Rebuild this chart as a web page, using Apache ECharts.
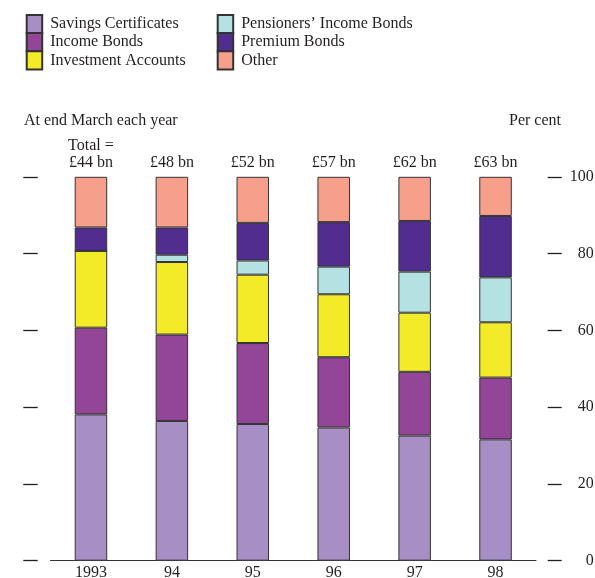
<!DOCTYPE html>
<html>
<head>
<meta charset="utf-8">
<script src="https://cdn.jsdelivr.net/npm/echarts@6/dist/echarts.min.js"></script>
<style>html,body{margin:0;padding:0;background:#fff}#c{width:595px;height:578px}</style>
</head>
<body>
<div id="c"></div>
<script>
const years = ['1993', '94', '95', '96', '97', '98'];
const totals = ['£44 bn', '£48 bn', '£52 bn', '£57 bn', '£62 bn', '£63 bn'];
const savingsCertificates = [38.1, 36.4, 35.6, 34.7, 32.6, 31.6];
const incomeBonds = [22.6, 22.5, 21.1, 18.3, 16.6, 16.1];
const investmentAccounts = [20.0, 18.9, 17.8, 16.4, 15.4, 14.4];
const pensionersIncomeBonds = [0, 1.9, 3.7, 7.2, 10.7, 11.7];
const premiumBonds = [6.1, 7.1, 9.8, 11.6, 13.2, 16.0];
const other = [13.2, 13.2, 12.0, 11.8, 11.5, 10.2];
const yTicks = [0, 20, 40, 60, 80, 100];

const FONT = 'Liberation Serif';
const FS = 16;
const TXT = '#231f20';
const EDGE = '#333333';

const seriesDefs = [
  { name: 'Savings Certificates', data: savingsCertificates, color: '#a78fc5' },
  { name: 'Income Bonds', data: incomeBonds, color: '#934597' },
  { name: 'Investment Accounts', data: investmentAccounts, color: '#f3eb28' },
  { name: 'Pensioners\u2019 Income Bonds', data: pensionersIncomeBonds, color: '#b4e1e1' },
  { name: 'Premium Bonds', data: premiumBonds, color: '#512d90' },
  { name: 'Other', data: other, color: '#f6a08c' }
];

const series = seriesDefs.map((s, idx) => {
  const o = {
    name: s.name,
    type: 'bar',
    stack: 'total',
    barWidth: 32.5,
    data: s.data,
    itemStyle: { color: s.color, borderColor: EDGE, borderWidth: 1 },
    emphasis: { disabled: true },
    animation: false
  };
  if (idx === seriesDefs.length - 1) {
    o.label = {
      show: true,
      position: 'top',
      distance: 6,
      fontFamily: FONT,
      fontSize: FS,
      color: TXT,
      lineHeight: 17,
      formatter: p => (p.dataIndex === 0 ? 'Total =\n' : '') + totals[p.dataIndex]
    };
  }
  return o;
});

const legendCommon = {
  orient: 'vertical',
  padding: 0,
  itemWidth: 15.5,
  itemHeight: 18.3,
  itemGap: -2.2,
  icon: 'rect',
  selectedMode: false,
  textStyle: { fontFamily: FONT, fontSize: FS, color: TXT, lineHeight: 17.5, padding: [0, 0, 0, 3] }
};

const chart = echarts.init(document.getElementById('c'), null, { renderer: 'canvas' });
chart.setOption({
  animation: false,
  backgroundColor: '#ffffff',
  textStyle: { fontFamily: FONT },
  title: [
    { text: 'At end March each year', left: 24, top: 113, padding: 0, textStyle: { fontFamily: FONT, fontSize: FS, fontWeight: 'normal', color: TXT } },
    { text: 'Per cent', right: 34, top: 113, padding: 0, textStyle: { fontFamily: FONT, fontSize: FS, fontWeight: 'normal', color: TXT } }
  ],
  legend: [
    Object.assign({ left: 25.7, top: 14, data: seriesDefs.slice(0, 3).map(s => s.name) }, legendCommon),
    Object.assign({ left: 216.7, top: 14, data: seriesDefs.slice(3).map(s => s.name) }, legendCommon)
  ],
  grid: { left: 50.5, right: 59, top: 176.8, bottom: 17.3, containLabel: false, outerBoundsMode: 'none' },
  xAxis: {
    type: 'category',
    data: years,
    axisLine: { show: true, lineStyle: { color: EDGE, width: 1 } },
    axisTick: { show: false },
    axisLabel: { fontFamily: FONT, fontSize: FS, color: TXT, margin: 4 }
  },
  yAxis: [
    {
      type: 'value', min: 0, max: 100, interval: 20, position: 'right', offset: 11.7,
      axisLine: { show: false },
      axisTick: { show: true, inside: false, length: 14, lineStyle: { color: TXT, width: 1.3 } },
      axisLabel: { show: true, fontFamily: FONT, fontSize: FS, color: TXT, align: 'right', margin: 46,
        formatter: v => yTicks.includes(v) ? String(v) : '' },
      splitLine: { show: false }
    },
    {
      type: 'value', min: 0, max: 100, interval: 20, position: 'left', offset: 12.8,
      axisLine: { show: false },
      axisTick: { show: true, inside: false, length: 14.4, lineStyle: { color: TXT, width: 1.3 } },
      axisLabel: { show: false },
      splitLine: { show: false }
    }
  ],
  series: series
});
</script>
</body>
</html>
